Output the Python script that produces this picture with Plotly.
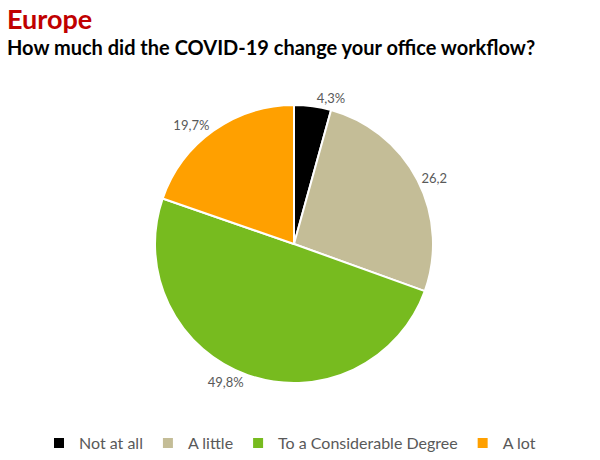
import plotly.graph_objects as go

categories = ["Not at all", "A little", "To a Considerable Degree", "A lot"]
values = [4.3, 26.2, 49.8, 19.7]
value_labels = ["4,3%", "26,2", "49,8%", "19,7%"]
colors = ["#000000", "#C4BD97", "#77BB1F", "#FFA000"]

W, H = 600, 460
cx, cy, r = 294, 244, 139

fig = go.Figure(go.Pie(
    labels=categories,
    values=values,
    text=value_labels,
    textinfo="text",
    textposition="outside",
    textfont=dict(family="Lato", size=13, color="#595959"),
    marker=dict(colors=colors, line=dict(color="white", width=2)),
    sort=False,
    direction="clockwise",
    rotation=0,
    hoverinfo="label+percent",
    domain=dict(x=[(cx - r) / W, (cx + r) / W], y=[1 - (cy + r) / H, 1 - (cy - r) / H]),
))

fig.add_annotation(text="<b>Europe</b>", x=5 / W, y=1 - 0 / H, xref="paper", yref="paper",
                   xanchor="left", yanchor="top", showarrow=False,
                   font=dict(family="Lato", size=27, color="#C00000"))
fig.add_annotation(text="<b>How much did the COVID-19 change your office workflow?</b>",
                   x=5 / W, y=1 - 33 / H, xref="paper", yref="paper",
                   xanchor="left", yanchor="top", showarrow=False,
                   font=dict(family="Lato", size=20, color="#000000"))

fig.update_layout(
    width=W, height=H,
    margin=dict(l=0, r=0, t=0, b=0),
    paper_bgcolor="white",
    plot_bgcolor="white",
    showlegend=True,
    legend=dict(orientation="h", x=290 / W, xanchor="center", y=1 - 443 / H, yanchor="middle",
                font=dict(family="Lato", size=16, color="#595959")),
)

fig.write_html("out.html")
